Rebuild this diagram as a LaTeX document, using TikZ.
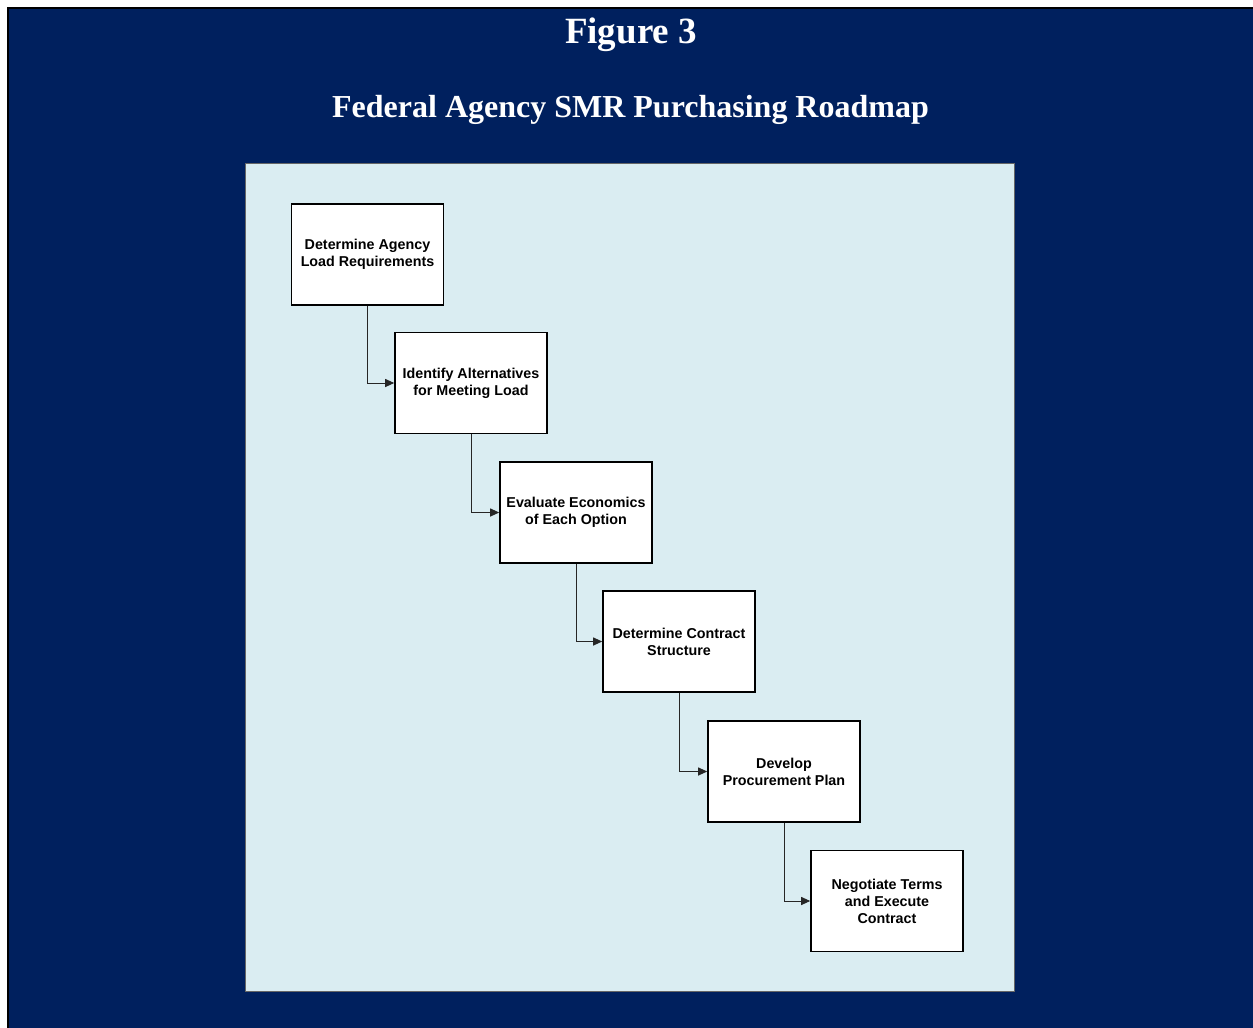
\documentclass[tikz,border=0pt]{standalone}
\usepackage{fontspec}
\setmainfont{Liberation Serif}
\newfontfamily\boxfont{Liberation Sans}
\usetikzlibrary{arrows.meta}
\definecolor{navy}{RGB}{0,32,94}
\definecolor{panel}{RGB}{218,237,242}
\tikzset{
  stepbox/.style={draw=black, fill=white, line width=1.6pt, minimum width=152pt, minimum height=101pt, inner sep=0pt, align=center, font=\boxfont\bfseries\fontsize{14.3}{17}\selectfont},
  conn/.style={draw=black!85, line width=1pt, -{Triangle[length=9pt,width=8pt]}},
}
\begin{document}
\begin{tikzpicture}[x=1pt,y=-1pt]
\useasboundingbox (0,0) rectangle (1253,1028);
\fill[white] (0,0) rectangle (1253,1028);
\fill[navy] (8,8) rectangle (1253,1028);
\draw[black, line width=2.5pt] (8,1028) -- (8,8) -- (1253,8);
\fill[panel, draw=black!60, line width=1pt] (245.5,163.5) rectangle (1014.5,991.5);
\node[text=white, font=\bfseries\fontsize{37}{40}\selectfont, anchor=base] (fig) at (631,43) {Figure 3};
\node[text=white, font=\bfseries\fontsize{32}{36}\selectfont, anchor=base] (title) at (630.5,117) {Federal Agency SMR Purchasing Roadmap};
\node[stepbox] (b1) at (367.5,254.5) {Determine Agency\\Load Requirements};
\node[stepbox] (b2) at (471,383) {Identify Alternatives\\for Meeting Load};
\node[stepbox] (b3) at (576,512.5) {Evaluate Economics\\of Each Option};
\node[stepbox] (b4) at (679,641.5) {Determine Contract\\Structure};
\node[stepbox] (b5) at (784,771.5) {Develop\\Procurement Plan};
\node[stepbox] (b6) at (887,901) {Negotiate Terms\\and Execute\\Contract};
\draw[conn] (b1.south) |- (b2.west);
\draw[conn] (b2.south) |- (b3.west);
\draw[conn] (b3.south) |- (b4.west);
\draw[conn] (b4.south) |- (b5.west);
\draw[conn] (b5.south) |- (b6.west);
\end{tikzpicture}
\end{document}
